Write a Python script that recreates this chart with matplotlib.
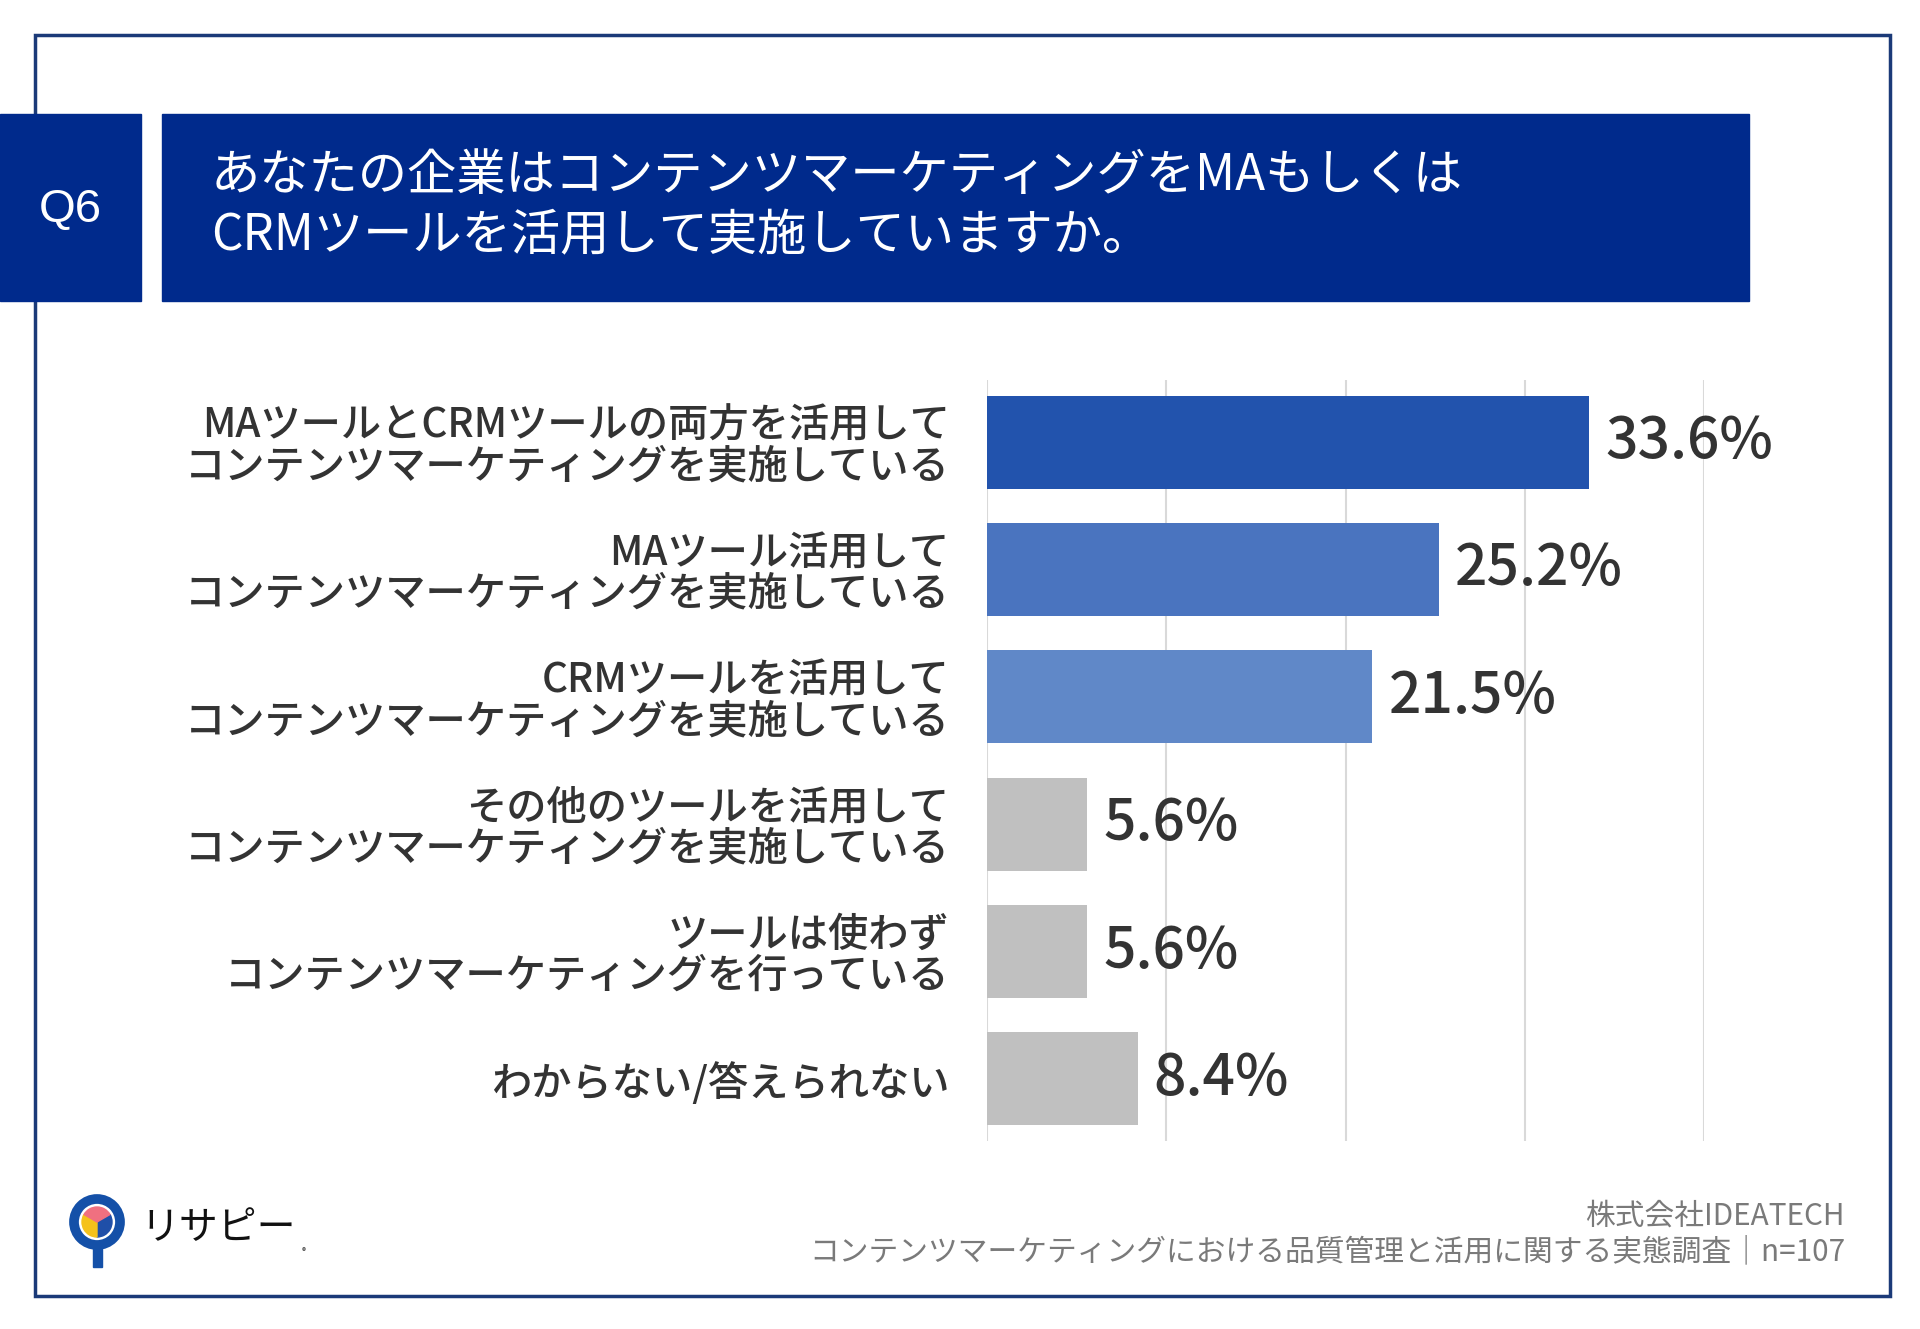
import matplotlib
matplotlib.use("Agg")
import matplotlib.pyplot as plt
from matplotlib.patches import Rectangle, Circle, Wedge
import numpy as np

plt.rcParams['font.family'] = ['Noto Sans CJK JP', 'DejaVu Sans']

categories = [
    "MAツールとCRMツールの両方を活用して\nコンテンツマーケティングを実施している",
    "MAツール活用して\nコンテンツマーケティングを実施している",
    "CRMツールを活用して\nコンテンツマーケティングを実施している",
    "その他のツールを活用して\nコンテンツマーケティングを実施している",
    "ツールは使わず\nコンテンツマーケティングを行っている",
    "わからない/答えられない",
]
values = [33.6, 25.2, 21.5, 5.6, 5.6, 8.4]
bar_colors = ["#2253ad", "#4a74bf", "#6088c8", "#c0c0c0", "#c0c0c0", "#c0c0c0"]
ticks = [0, 10, 20, 30, 40]

title = "あなたの企業はコンテンツマーケティングをMAもしくは\nCRMツールを活用して実施していますか。"
source1 = "株式会社IDEATECH"
source2 = "コンテンツマーケティングにおける品質管理と活用に関する実態調査｜n=107"

W, H = 1920, 1329
fig = plt.figure(figsize=(W / 100, H / 100), dpi=100)
fig.patch.set_facecolor("white")

# overlay in pixel coords for frame / header / logo
bg = fig.add_axes([0, 0, 1, 1])
bg.set_xlim(0, W)
bg.set_ylim(H, 0)
bg.axis("off")

navy = "#002a8c"
bg.add_patch(Rectangle((35, 35), 1855, 1261, fill=False, ec="#1b3a78", lw=2.5))
bg.add_patch(Rectangle((0, 114), 141, 187, color=navy, zorder=3))
bg.add_patch(Rectangle((162, 114), 1587, 187, color=navy, zorder=3))
bg.text(70, 210, "Q6", color="white", fontsize=34, ha="center", va="center",
        family=["Liberation Sans", "DejaVu Sans"], zorder=4)
bg.text(211, 206, title, color="white", fontsize=35.5, ha="left", va="center",
        linespacing=1.2, zorder=4)

# logo
cx, cy = 97, 1222
bg.add_patch(Circle((cx, cy), 23, fill=False, ec="#1450a8", lw=7, zorder=3))
bg.add_patch(Rectangle((cx - 4.5, cy + 25), 9, 20, color="#1450a8", zorder=3))
bg.add_patch(Wedge((cx, cy), 15, -30, 90, color="#1f4fa8", zorder=4))
bg.add_patch(Wedge((cx, cy), 15, 90, 210, color="#f5c21b", zorder=4))
bg.add_patch(Wedge((cx, cy), 15, 210, 330, color="#f07080", zorder=4))
bg.text(140, 1228, "リサピー", fontsize=28, ha="left", va="center",
        color="#111111")
bg.text(302, 1252, "®", fontsize=6, ha="left", va="center", color="#333333")

bg.text(1845, 1216, source1, fontsize=21.4, ha="right", va="center", color="#7a7a7a")
bg.text(1845, 1252, source2, fontsize=21.4, ha="right", va="center", color="#7a7a7a")

# main bar chart
ax = fig.add_axes([987 / W, 1 - 1141 / H, 717 / W, 761 / H])
y = np.arange(len(values))
ax.barh(y, values, height=0.73, color=bar_colors, zorder=2)
ax.set_xlim(0, 40)
ax.set_ylim(len(values) - 0.513, -0.487)
ax.set_xticks(ticks)
ax.grid(axis="x", color="#d9d9d9", lw=1.5, zorder=0)
ax.tick_params(axis="both", length=0, labelbottom=False)
for s in ax.spines.values():
    s.set_visible(False)
ax.set_yticks(y)
ax.set_yticklabels(categories, fontsize=29, fontweight="medium", color="#333333",
                   linespacing=1.0)
ax.tick_params(axis="y", pad=27)

for yi, v in zip(y, values):
    ax.text(v + 0.9, yi, f"{v:.1f}%", va="center", ha="left", fontsize=41,
            color="#333333", fontweight="medium")

fig.savefig("out.png", dpi=100, facecolor="white")
